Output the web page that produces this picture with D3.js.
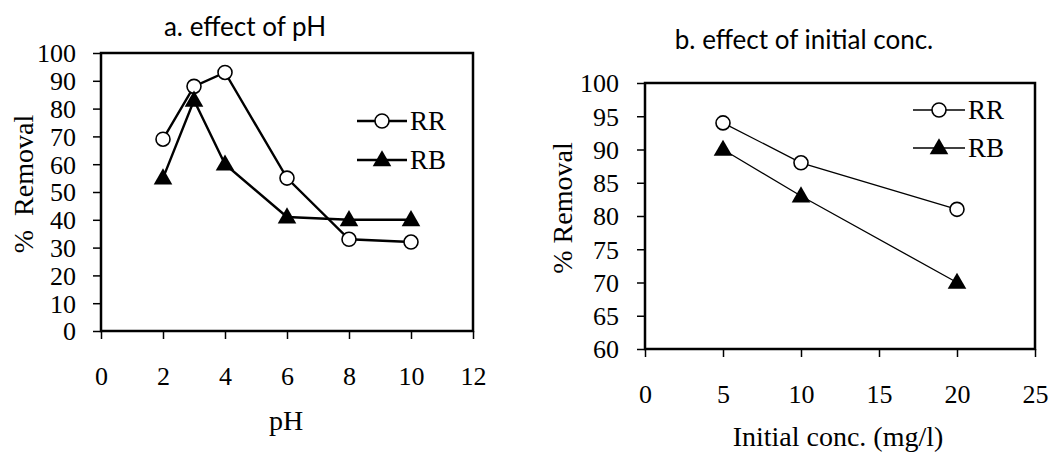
<!DOCTYPE html>
<html>
<head>
<meta charset="utf-8">
<script src="https://cdn.jsdelivr.net/npm/d3@7"></script>
<style>
  body { margin: 0; background: #fff; }
  svg text { fill: #000; white-space: pre; }
  .serif { font-family: "Liberation Serif", "Times New Roman", serif; }
  .sans { font-family: Lato, "Open Sans", sans-serif; }
</style>
</head>
<body>
<svg id="chart" width="1049" height="454"></svg>
<script>
// panel a: effect of pH
const phX = [2, 3, 4, 6, 8, 10];
const phRR = [69, 88, 93, 55, 33, 32];
const phRB = [55, 83, 60, 41, 40, 40];
const phXTicks = [0, 2, 4, 6, 8, 10, 12];
const phYTicks = [0, 10, 20, 30, 40, 50, 60, 70, 80, 90, 100];

// panel b: effect of initial conc.
const concX = [5, 10, 20];
const concRR = [94, 88, 81];
const concRB = [90, 83, 70];
const concXTicks = [0, 5, 10, 15, 20, 25];
const concYTicks = [60, 65, 70, 75, 80, 85, 90, 95, 100];

const svg = d3.select('#chart');

function drawPanel(opts) {
  const x = d3.scaleLinear().domain(opts.xDomain).range([opts.left, opts.right]);
  const y = d3.scaleLinear().domain(opts.yDomain).range([opts.bottom, opts.top]);
  const g = svg.append('g');

  // y axis ticks + labels
  g.append('g')
    .attr('transform', 'translate(' + opts.left + ',0)')
    .call(d3.axisLeft(y).tickValues(opts.yTicks).tickSize(8).tickPadding(opts.yPad).tickFormat(d3.format('d')))
    .call((a) => a.select('.domain').remove())
    .call((a) => a.selectAll('line').attr('stroke', '#000').attr('stroke-width', 1.5))
    .call((a) => a.selectAll('text').attr('class', 'serif').style('font-size', '26px').attr('dy', '0.34em'));

  // x axis ticks + labels
  g.append('g')
    .attr('transform', 'translate(0,' + opts.bottom + ')')
    .call(d3.axisBottom(x).tickValues(opts.xTicks).tickSize(8).tickPadding(28).tickFormat(d3.format('d')))
    .call((a) => a.select('.domain').remove())
    .call((a) => a.selectAll('line').attr('stroke', '#000').attr('stroke-width', 1.5))
    .call((a) => a.selectAll('text').attr('class', 'serif').style('font-size', '26px'));

  // plot frame
  g.append('rect')
    .attr('x', opts.left).attr('y', opts.top)
    .attr('width', opts.right - opts.left).attr('height', opts.bottom - opts.top)
    .attr('fill', 'none').attr('stroke', '#000').attr('stroke-width', 2.5);

  const line = d3.line().x((d) => x(d[0])).y((d) => y(d[1]));
  const series = [
    { name: 'RR', pts: opts.xs.map((v, i) => [v, opts.rr[i]]), shape: 'circle' },
    { name: 'RB', pts: opts.xs.map((v, i) => [v, opts.rb[i]]), shape: 'triangle' }
  ];

  function marker(sel, shape) {
    if (shape === 'circle') {
      sel.append('circle').attr('r', 7).attr('fill', '#fff')
        .attr('stroke', '#000').attr('stroke-width', 1.6);
    } else {
      sel.append('path').attr('d', d3.symbol(d3.symbolTriangle, 150)())
        .attr('transform', 'translate(0,1)').attr('fill', '#000');
    }
  }

  series.forEach((s) => {
    g.append('path').attr('d', line(s.pts))
      .attr('fill', 'none').attr('stroke', '#000').attr('stroke-width', opts.lineW);
    s.pts.forEach((p) => {
      const m = g.append('g').attr('transform', 'translate(' + x(p[0]) + ',' + y(p[1]) + ')');
      marker(m, s.shape);
    });
  });

  // legend
  series.forEach((s, i) => {
    const ly = opts.legY[i];
    g.append('line').attr('x1', opts.legX[0]).attr('x2', opts.legX[1])
      .attr('y1', ly).attr('y2', ly).attr('stroke', '#000').attr('stroke-width', opts.lineW);
    const m = g.append('g').attr('transform', 'translate(' + ((opts.legX[0] + opts.legX[1]) / 2) + ',' + ly + ')');
    marker(m, s.shape);
    g.append('text').attr('class', 'serif').attr('x', opts.legX[1] + 3).attr('y', ly)
      .attr('dy', '0.35em').style('font-size', '27px').text(s.name);
  });

  // titles
  g.append('text').attr('class', 'sans').attr('x', opts.title.x).attr('y', opts.title.y)
    .attr('text-anchor', 'middle').style('font-size', '26px').text(opts.title.text);
  g.append('text').attr('class', 'serif').attr('x', opts.xLabel.x).attr('y', opts.xLabel.y)
    .attr('text-anchor', 'middle').attr('dy', '0.35em').style('font-size', '28px').text(opts.xLabel.text);
  g.append('text').attr('class', 'serif')
    .attr('transform', 'translate(' + opts.yLabel.x + ',' + opts.yLabel.y + ') rotate(-90)')
    .attr('text-anchor', 'middle').attr('dy', '0.35em').style('font-size', '28px').text(opts.yLabel.text);
}

drawPanel({
  left: 101, right: 473, top: 53, bottom: 331,
  xDomain: [0, 12], yDomain: [0, 100],
  xTicks: phXTicks, yTicks: phYTicks, yPad: 17,
  xs: phX, rr: phRR, rb: phRB,
  lineW: 2.4,
  legX: [357, 407], legY: [121, 160],
  title: { x: 245, y: 36, text: 'a. effect of pH' },
  xLabel: { x: 286, y: 420, text: 'pH' },
  yLabel: { x: 23, y: 184, text: '%  Removal' }
});

drawPanel({
  left: 645, right: 1035, top: 83, bottom: 349,
  xDomain: [0, 25], yDomain: [60, 100],
  xTicks: concXTicks, yTicks: concYTicks, yPad: 18,
  xs: concX, rr: concRR, rb: concRB,
  lineW: 1.3,
  legX: [913, 965], legY: [110, 148],
  title: { x: 804, y: 49, text: 'b. effect of initial conc.' },
  xLabel: { x: 838, y: 436, text: 'Initial conc. (mg/l)' },
  yLabel: { x: 562, y: 208, text: '% Removal' }
});
</script>
</body>
</html>
